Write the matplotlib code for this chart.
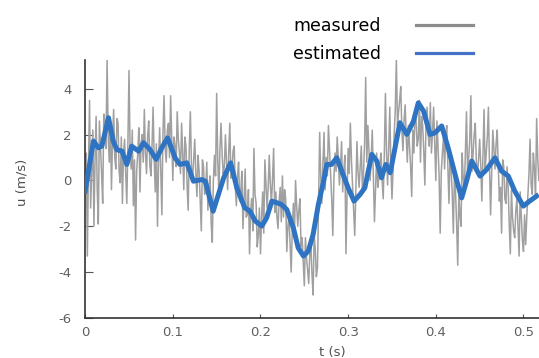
import matplotlib
matplotlib.use("Agg")
import matplotlib.pyplot as plt
from matplotlib.lines import Line2D

plt.rcParams['font.family'] = ['DejaVu Sans']
plt.rcParams['axes.unicode_minus'] = False

# measured velocity
# measured: samples at t = i*dt, measured_mid: samples at t = i*dt + dt/2
dt = 0.0025
measured = [
    -0.5, -3.3, 3.5, 0.5, -2.0, 2.8, -1.9, 1.5, -1.0, 2.5,
    5.3, 0.8, -0.4, 3.1, 0.5, 2.5, -0.1, -1.0, 1.8, -1.0,
    4.8, 0.5, -1.1, -2.6, 1.2, -0.5, 2.0, 3.1, 0.3, 2.6,
    0.2, 3.2, -0.5, -2.0, 2.3, -1.5, 3.7, 0.8, 2.5, 3.7,
    0.0, 1.5, 3.0, 1.2, 2.5, -0.4, 1.5, -1.3, 3.0, 0.0,
    1.8, -0.7, 0.4, -2.2, 0.6, -0.4, -1.3, 0.2, -2.7, 1.1,
    3.8, -0.6, 2.5, 0.3, 2.0, -0.4, 2.5, 0.5, 1.5, -1.1,
    0.8, -0.5, -2.1, 0.5, -1.5, -3.2, -0.8, 1.4, -1.0, -2.4,
    -3.2, -0.5, 0.9, -1.2, 1.1, -1.0, 1.4, -0.5, -2.1, -0.3,
    0.2, -0.4, -3.1, -1.5, -4.0, -1.0, 0.0, -2.0, -0.8, -2.5,
    -4.6, -3.4, -4.5, -2.8, -5.0, -3.0, -3.8, 2.1, -1.0, 2.1,
    1.0, 2.4, 0.3, -2.4, 1.2, 1.9, -0.2, 1.7, 0.4, -3.2,
    1.4, 2.5, -0.2, -2.4, 1.7, -0.3, 1.5, 0.3, 4.5, 2.4,
    0.0, 2.2, -1.8, 1.2, 0.1, 1.2, -0.8, 3.8, -0.2, 3.2,
    -0.8, 2.0, 5.3, 3.0, 4.1, 1.3, 3.3, 0.8, 1.5, -0.7,
    1.2, 2.6, 1.8, 0.8, 2.4, -0.2, 3.2, 1.5, 1.2, 3.2,
    0.0, 1.5, -2.3, 1.2, 0.5, 2.4, -1.0, 0.5, -2.3, -0.5,
    -3.7, -1.5, 1.2, -0.5, 3.0, 1.0, 3.7, 1.2, 2.5, 0.3,
    1.8, -0.9, 3.1, 1.2, 3.2, -1.5, 2.2, 0.5, 2.2, -0.9,
    -2.3, 0.6, -1.0, -0.3, -3.2, -1.6, -2.5, -0.8, -3.3, -1.6,
    -3.1, -2.8, -0.6, 1.8, -0.6, 0.5, 2.7, 0.0,
]
measured_mid = [
    1.2, 0.6, -1.2, 2.2, 0.9, -0.4, 2.6, 0.3, 2.9, 1.4,
    2.0, 2.6, 1.9, 1.0, 2.7, 0.4, 1.9, 1.2, 0.3, 1.6,
    1.3, 2.2, 0.9, 0.4, 2.3, 1.6, 0.8, 1.2, 1.9, 0.7,
    1.5, 0.9, 1.6, 0.8, 0.3, 2.1, 1.4, 2.2, 1.0, 1.8,
    1.9, 0.6, 1.8, 0.3, 1.2, 1.9, -0.2, 1.4, 0.6, 0.9,
    0.3, 1.1, -0.9, 0.9, -0.6, 0.8, -0.2, -1.9, 0.0, 0.2,
    0.9, 1.4, 1.1, 0.6, 0.8, 1.2, 0.1, 1.3, -0.3, 0.2,
    -0.9, 0.4, -0.8, -1.6, -0.4, -1.3, -2.2, -0.6, -2.9, -1.2,
    -1.6, -2.3, -0.2, -0.3, -0.2, 0.1, -1.4, -1.6, -0.9, -1.8,
    -1.6, -0.8, -2.0, -2.7, -2.2, -2.4, -1.1, -1.3, -2.9, -3.5,
    -2.5, -3.9, -3.2, -4.1, -2.4, -4.2, -1.0, 0.2, 0.8, -0.4,
    0.2, 1.3, -0.8, 0.1, 0.4, 1.0, 0.6, -0.5, 1.1, -0.6,
    0.3, 0.9, -1.4, -0.5, 0.4, 0.6, -0.4, 1.6, 0.8, 1.3,
    0.9, 0.2, -0.4, -0.3, 0.8, 0.0, 1.1, 1.3, 1.4, 0.6,
    0.5, 3.1, 2.4, 3.5, 2.2, 2.6, 1.9, 2.4, 0.6, 2.2,
    3.0, 1.5, 3.5, 2.8, 1.3, 2.4, 2.0, 3.4, 2.1, 1.6,
    2.6, 0.2, 0.4, 1.9, 2.0, 0.6, 1.2, -0.6, 0.4, -1.9,
    -0.6, -2.0, 0.1, 1.3, 0.2, 1.8, 0.4, 2.0, 0.8, 0.9,
    0.7, 1.1, 0.4, 1.9, 0.6, 0.3, 1.4, 1.6, 0.6, -0.3,
    0.9, -0.8, 0.6, -1.9, -0.4, -2.2, -1.3, -2.0, -0.5, -2.6,
    -1.5, -1.6, 0.3, -0.2, 1.2, -0.7, 1.0,
]

# estimated velocity (smooth curve)
t_est = [0.0, 0.0095, 0.015, 0.019, 0.0266, 0.032, 0.036, 0.042, 0.0475, 0.053,
         0.061, 0.0665, 0.074, 0.081, 0.0874, 0.094, 0.1026, 0.108, 0.116, 0.1235,
         0.133, 0.137, 0.146, 0.158, 0.166, 0.173, 0.182, 0.188, 0.194, 0.2015,
         0.207, 0.213, 0.2186, 0.224, 0.23, 0.2375, 0.243, 0.249, 0.2546, 0.26,
         0.266, 0.272, 0.2756, 0.281, 0.287, 0.2927, 0.30, 0.3067, 0.3136, 0.319,
         0.327, 0.3326, 0.338, 0.343, 0.348, 0.359, 0.367, 0.3745, 0.38, 0.386,
         0.3934, 0.399, 0.4067, 0.414, 0.424, 0.4295, 0.435, 0.441, 0.4504, 0.458,
         0.4675, 0.475, 0.4827, 0.49, 0.4998, 0.507, 0.515]
u_est = [-0.46, 1.72, 1.43, 1.5, 2.74, 1.72, 1.35, 1.28, 0.70, 1.50,
         1.28, 1.65, 1.35, 0.92, 1.43, 1.86, 0.99, 0.70, 0.77, -0.03,
         0.04, -0.03, -1.34, 0.12, 0.77, -0.32, -1.19, -1.34, -1.77, -1.99,
         -1.63, -0.90, -0.97, -1.05, -1.27, -2.07, -2.94, -3.30, -3.08, -2.36,
         -1.05, -0.03, 0.70, 0.70, 0.99, 0.41, -0.32, -0.90, -0.61, -0.32,
         1.14, 0.85, 0.12, 0.70, 0.34, 2.52, 2.01, 2.59, 3.39, 3.03,
         2.01, 2.08, 2.38, 1.43, -0.03, -0.76, -0.03, 0.85, 0.19, 0.48,
         0.99, 0.41, 0.19, -0.46, -1.12, -0.90, -0.68]

xticks = [0, 0.1, 0.2, 0.3, 0.4, 0.5]
xtick_labels = ["0", "0.1", "0.2", "0.3", "0.4", "0.5"]
yticks = [-6, -4, -2, 0, 2, 4]

gray = '#a0a0a0'
blue = '#2f74c2'

# put the two sample sets back into time order
t_meas, u_meas = [], []
for i, v in enumerate(measured):
    t_meas.append(i * dt)
    u_meas.append(v)
    if i < len(measured_mid):
        t_meas.append(i * dt + dt / 2)
        u_meas.append(measured_mid[i])

fig = plt.figure(figsize=(5.39, 3.58), dpi=100)
ax = fig.add_axes([0.158, 0.112, 0.842, 0.721])

ax.plot(t_meas, u_meas, color=gray, lw=1.1, zorder=2)
ax.plot(t_est, u_est, color=blue, lw=3.6, solid_joinstyle='round', zorder=3)

ax.set_xlim(0, 0.5177)
ax.set_ylim(-6, 5.27)
ax.set_xticks(xticks)
ax.set_xticklabels(xtick_labels)
ax.set_yticks(yticks)

for s in ['top', 'right']:
    ax.spines[s].set_visible(False)
for s in ['left', 'bottom']:
    ax.spines[s].set_color('#333333')
    ax.spines[s].set_linewidth(1.2)

ax.tick_params(axis='y', direction='in', length=5.5, width=0.8, color='#555555',
               labelcolor='#606060', labelsize=9.5, pad=10)
ax.tick_params(axis='x', direction='in', length=3, width=0.8, color='#555555',
               labelcolor='#606060', labelsize=9.5, pad=6)

ax.set_xlabel("t (s)", fontsize=9.5, color='#505050')
ax.set_ylabel("u (m/s)", fontsize=9.5, color='#505050')
ax.xaxis.set_label_coords(0.544, -0.108)
ax.yaxis.set_label_coords(-0.125, 0.527)

# legend sits above the plot, labels on the left of the lines
handles = [Line2D([], [], color='#8c8c8c', lw=2.3),
           Line2D([], [], color='#4472c4', lw=2.3)]
fig.legend(handles, ["measured", "estimated"], loc='center right',
           bbox_to_anchor=(473 / 539, 1 - 40 / 358), frameon=False,
           markerfirst=False, fontsize=12.5, handlelength=3.3,
           handletextpad=2.0, labelspacing=0.55, borderpad=0,
           borderaxespad=0)

fig.savefig("out.png", dpi=100)
